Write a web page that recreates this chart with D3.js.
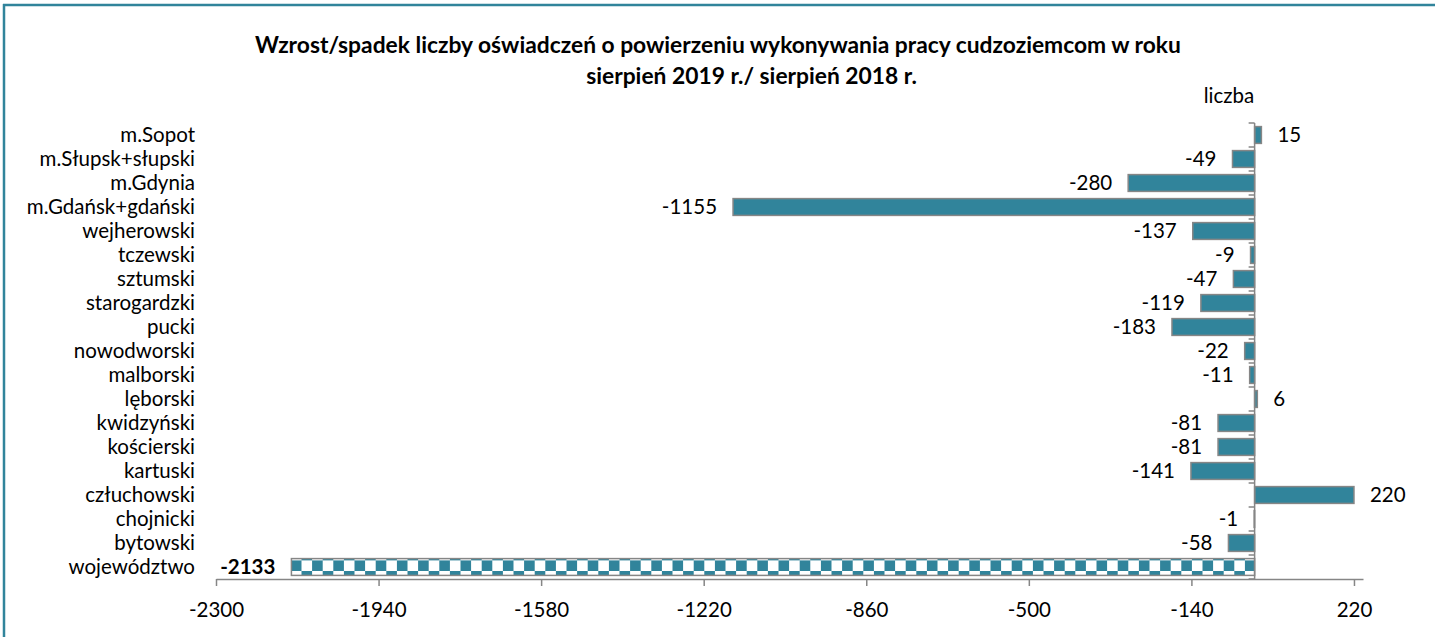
<!DOCTYPE html>
<html><head><meta charset="utf-8">
<script src="https://cdn.jsdelivr.net/npm/d3@7"></script>
<style>html,body{margin:0;padding:0;background:#fff;}svg{display:block;}</style>
</head><body>
<svg id="chart" width="1435" height="637"></svg>
<script>
const categories = ["m.Sopot","m.Słupsk+słupski","m.Gdynia","m.Gdańsk+gdański","wejherowski","tczewski","sztumski","starogardzki","pucki","nowodworski","malborski","lęborski","kwidzyński","kościerski","kartuski","człuchowski","chojnicki","bytowski","województwo"];
const values = [15,-49,-280,-1155,-137,-9,-47,-119,-183,-22,-11,6,-81,-81,-141,220,-1,-58,-2133];
const xTicks = [-2300,-1940,-1580,-1220,-860,-500,-140,220];
const titleLines = ["Wzrost/spadek liczby oświadczeń o powierzeniu wykonywania pracy cudzoziemcom w roku","sierpień 2019 r./ sierpień 2018 r."];
const unitLabel = "liczba";

const svg = d3.select("#chart");
const FONT = "Lato, 'Open Sans', sans-serif";
const teal = "#31849B", grey = "#868686";
const FS = 20.5;

// frame lines (top and left)
svg.append("line").attr("x1",3).attr("x2",1435).attr("y1",5).attr("y2",5).attr("stroke",teal).attr("stroke-width",2.5);
svg.append("line").attr("x1",4).attr("x2",4).attr("y1",4).attr("y2",637).attr("stroke",teal).attr("stroke-width",2.5);

const x = d3.scaleLinear().domain([-2300,240]).range([216,1363]);
const y = d3.scaleBand().domain(categories).range([123,579]).paddingInner(0.3).paddingOuter(0.15);
const yOuter = d3.scaleBand().domain(categories).range([123,579]);

// pattern
const defs = svg.append("defs");
const cell = 10.6;
const pat = defs.append("pattern").attr("id","checker").attr("patternUnits","userSpaceOnUse")
  .attr("width",cell*2).attr("height",cell*2).attr("x",301.5).attr("y",571-cell);
pat.append("rect").attr("width",cell*2).attr("height",cell*2).attr("fill","#fff");
pat.append("rect").attr("x",0).attr("y",cell).attr("width",cell).attr("height",cell).attr("fill",teal);
pat.append("rect").attr("x",cell).attr("y",0).attr("width",cell).attr("height",cell).attr("fill",teal);

// title
svg.append("g").selectAll("text").data(titleLines).join("text")
  .attr("x",(d,i)=> i===0 ? 718 : 751.5).attr("y",(d,i)=>53+i*31)
  .attr("text-anchor","middle").attr("font-family",FONT).attr("font-weight","bold")
  .attr("font-size",22.8).attr("fill","#000").text(d=>d);

svg.append("text").attr("x",1229).attr("y",103).attr("text-anchor","middle")
  .attr("font-family",FONT).attr("font-size",FS).text(unitLabel);

// bars
svg.append("g").selectAll("rect").data(values).join("rect")
  .attr("x",d=>x(Math.min(0,d))).attr("width",d=>Math.abs(x(d)-x(0)))
  .attr("y",(d,i)=>y(categories[i])).attr("height",y.bandwidth())
  .attr("fill",(d,i)=> i===categories.length-1 ? "url(#checker)" : teal)
  .attr("stroke",grey).attr("stroke-width",1.5);

// value labels
svg.append("g").selectAll("text").data(values).join("text")
  .attr("x",d=> d<0 ? x(d)-16 : x(d)+16)
  .attr("y",(d,i)=>y(categories[i])+y.bandwidth()/2)
  .attr("dy","0.36em").attr("text-anchor",d=>d<0?"end":"start")
  .attr("font-family",FONT).attr("font-size",FS)
  .attr("font-weight",(d,i)=> i===categories.length-1 ? "bold":"normal")
  .text(d=>d);

// x axis
const xAxis = svg.append("g").attr("transform","translate(0,579)")
  .call(d3.axisBottom(x).tickValues(xTicks).tickSize(7).tickSizeOuter(0).tickFormat(d=>d));
xAxis.select(".domain").attr("stroke",grey).attr("stroke-width",1.5);
xAxis.selectAll(".tick line").attr("stroke",grey).attr("stroke-width",1.5);
xAxis.selectAll("text").attr("font-family",FONT).attr("font-size",FS).attr("fill","#000").attr("y",0).attr("dy","0").attr("transform","translate(0,38)");

// y axis at zero
const yAxisG = svg.append("g").attr("transform",`translate(${x(0)},0)`);
yAxisG.append("line").attr("y1",123).attr("y2",579).attr("stroke",grey).attr("stroke-width",1.5);
const bounds = categories.map(c=>yOuter(c)).concat([579]);
yAxisG.selectAll("line.tk").data(bounds).join("line").attr("class","tk")
  .attr("x1",-6).attr("x2",0).attr("y1",d=>d).attr("y2",d=>d).attr("stroke",grey).attr("stroke-width",1.5);

// category labels
svg.append("g").selectAll("text").data(categories).join("text")
  .attr("x",195).attr("y",d=>yOuter(d)+yOuter.bandwidth()/2).attr("dy","0.36em")
  .attr("text-anchor","end").attr("font-family",FONT).attr("font-size",FS).attr("fill","#000").text(d=>d);
</script>
</body></html>
